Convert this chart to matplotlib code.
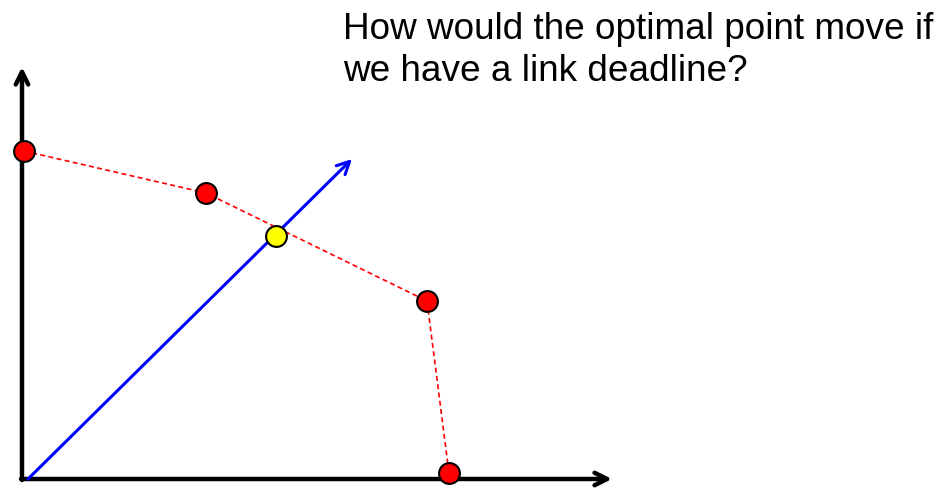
import matplotlib
matplotlib.use("Agg")
import matplotlib.pyplot as plt

# frontier points (red) and chosen optimum (yellow), in plot units
frontier_x = [0, 182, 403, 425]
frontier_y = [326, 284, 176, 4]
optimum = (252, 241)
direction_end = (328, 318)

question = "How would the optimal point move if\nwe have a link deadline?"

fig = plt.figure(figsize=(9.44, 4.89), dpi=100)
ax = fig.add_axes([0, 0, 1, 1])
ax.set_xlim(-24, 920)
ax.set_ylim(-11, 478)
ax.axis("off")

# axes arrows
arrow = dict(arrowstyle="->,head_length=0.9,head_width=0.45", color="black",
             lw=3.2, shrinkA=0, shrinkB=0)
ax.annotate("", xy=(588, -2), xytext=(-3, -2), arrowprops=arrow)
ax.annotate("", xy=(-2, 410), xytext=(-2, -3), arrowprops=arrow)

# direction vector
ax.annotate("", xy=direction_end, xytext=(4, -2),
            arrowprops=dict(arrowstyle="->,head_length=0.9,head_width=0.45",
                            color="#0000ff", lw=2.2, shrinkA=0, shrinkB=0))

ax.plot(frontier_x, frontier_y, "--", color="red", lw=1.2, dashes=(3, 2), zorder=3)
ax.plot(frontier_x, frontier_y, "o", ms=15, mfc="red", mec="black", mew=1.5, zorder=4)
ax.plot(*optimum, "o", ms=15, mfc="yellow", mec="black", mew=1.5, zorder=5)

fig.text(343 / 944, 1 - 12 / 489, question, ha="left", va="top",
         fontsize=26.6, family="Liberation Sans", linespacing=1.25)

fig.savefig("out.png", dpi=100)
